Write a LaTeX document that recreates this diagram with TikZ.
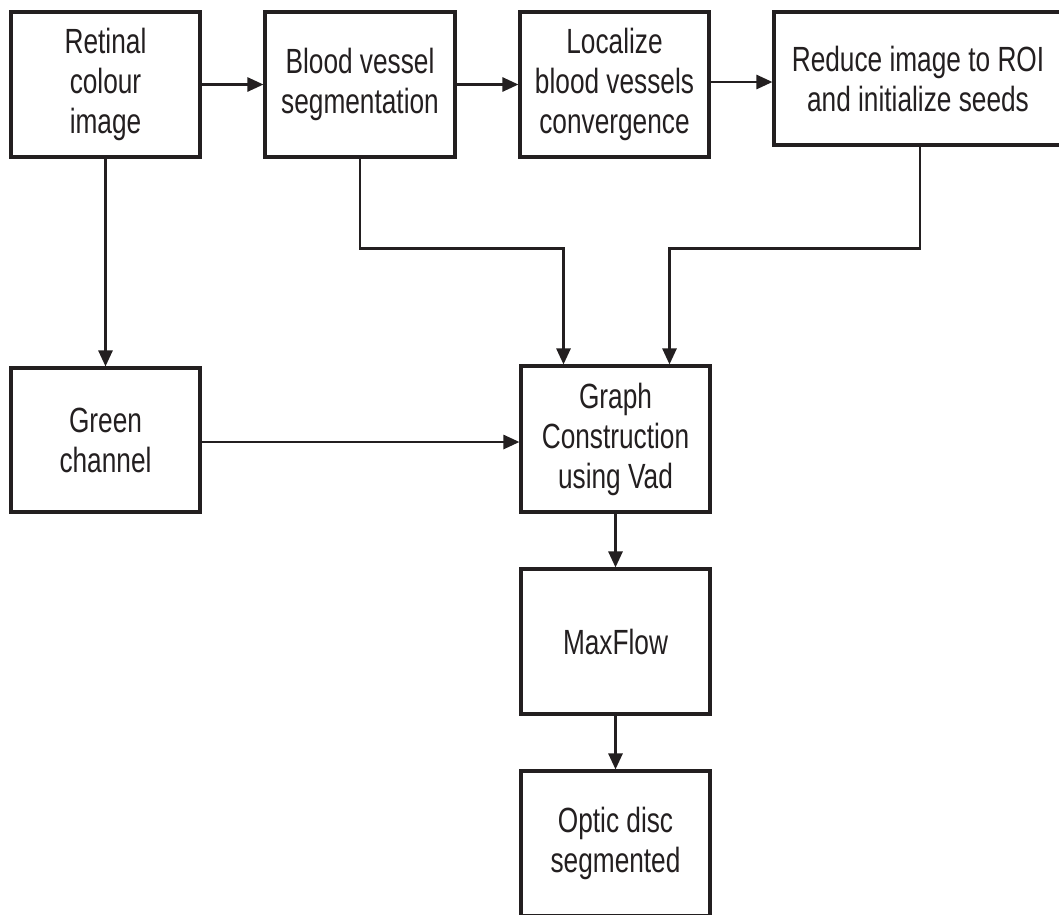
\documentclass[tikz,border=0pt]{standalone}
\usepackage{fontspec}
\setmainfont{Liberation Sans}[FakeStretch=0.75]
\usetikzlibrary{arrows.meta}
\definecolor{ink}{RGB}{35,31,32}
\begin{document}
\begin{tikzpicture}[x=1pt,y=-1pt,
  box/.style={rectangle, draw=ink, line width=3.1pt, inner sep=0pt, align=center,
    font=\fontsize{35}{40}\selectfont, text=ink, minimum width=189pt, minimum height=145pt},
  arr/.style={draw=ink, line width=2.6pt, -{Triangle[length=16pt,width=14pt]}}]
\clip (0,0) rectangle (1059,914);
\fill[white] (0,0) rectangle (1059,914);
\node[box] (A) at (105.5,84.5) {Retinal\\colour\\image};
\node[box, minimum width=190pt] (B) at (360,84.5) {Blood vessel\\segmentation};
\node[box] (C) at (614.5,84.5) {Localize\\blood vessels\\convergence};
\node[box, minimum width=288pt, minimum height=133pt] (D) at (918,78.5) {Reduce image to ROI\\and initialize seeds};
\node[box, minimum height=144pt] (E) at (105.5,440) {Green\\channel};
\node[box, minimum height=146pt] (F) at (615.5,439) {Graph\\Construction\\using Vad};
\node[box] (G) at (615.5,641.5) {MaxFlow};
\node[box] (H) at (615.5,843.5) {Optic disc\\segmented};
\draw[arr] (A.east) -- (B.west);
\draw[arr] (B.east) -- (C.west);
\draw[arr] ([yshift=2.5pt]C.east) -- ([yshift=2.5pt]C.east -| D.west);
\draw[arr] (A.south) -- (E.north);
\draw[arr] (B.south) -- ++(0,90) -| ([xshift=-52pt]F.north);
\draw[arr] ([xshift=2pt]D.south) -- ++(0,102) -| ([xshift=54pt]F.north);
\draw[arr] ([yshift=-2pt]E.east) -- ([yshift=-2pt]E.east -| F.west);
\draw[arr] (F.south) -- (G.north);
\draw[arr] (G.south) -- (H.north);
\end{tikzpicture}
\end{document}
